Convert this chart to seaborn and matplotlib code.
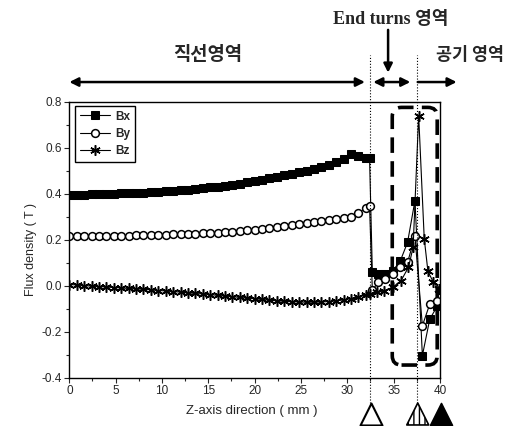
import numpy as np
import pandas as pd
import seaborn as sns
import matplotlib
matplotlib.use('Agg')
import matplotlib.pyplot as plt
from matplotlib.patches import FancyBboxPatch
from matplotlib.ticker import MultipleLocator, FormatStrFormatter
from matplotlib.transforms import blended_transform_factory

# straight section, sampled every ~0.8 mm
z_main = [0.0, 0.8, 1.6, 2.4, 3.2, 4.0, 4.8, 5.6, 6.4, 7.2, 8.0, 8.8, 9.6, 10.4,
          11.2, 12.0, 12.8, 13.6, 14.4, 15.2, 16.0, 16.8, 17.6, 18.4, 19.2, 20.0,
          20.8, 21.6, 22.4, 23.2, 24.0, 24.8, 25.6, 26.4, 27.2, 28.0, 28.8, 29.6,
          30.4, 31.2, 32.0, 32.4]
bx_main = [0.395, 0.396, 0.396, 0.397, 0.398, 0.399, 0.400, 0.401, 0.402, 0.404,
           0.405, 0.407, 0.409, 0.411, 0.413, 0.415, 0.418, 0.421, 0.424, 0.427,
           0.431, 0.435, 0.439, 0.444, 0.449, 0.454, 0.460, 0.466, 0.472, 0.479,
           0.486, 0.493, 0.500, 0.508, 0.516, 0.526, 0.537, 0.552, 0.573, 0.563,
           0.557, 0.556]
by_main = [0.214, 0.214, 0.215, 0.215, 0.216, 0.216, 0.217, 0.217, 0.218, 0.219,
           0.219, 0.220, 0.221, 0.222, 0.223, 0.224, 0.225, 0.226, 0.228, 0.229,
           0.231, 0.233, 0.235, 0.238, 0.241, 0.244, 0.247, 0.250, 0.254, 0.258,
           0.262, 0.266, 0.271, 0.276, 0.280, 0.284, 0.289, 0.294, 0.299, 0.318,
           0.336, 0.345]
bz_main = [0.005, 0.003, 0.000, -0.002, -0.004, -0.006, -0.008, -0.010, -0.012, -0.014,
           -0.016, -0.018, -0.021, -0.023, -0.026, -0.028, -0.031, -0.034, -0.036, -0.039,
           -0.042, -0.045, -0.048, -0.051, -0.054, -0.057, -0.060, -0.063, -0.066, -0.068,
           -0.070, -0.071, -0.072, -0.072, -0.071, -0.069, -0.066, -0.062, -0.056, -0.048,
           -0.040, -0.036]

# end turns / air region
z_bx_end = [32.7, 33.3, 34.1, 34.9, 35.7, 36.5, 37.3, 38.1, 38.9, 39.7]
bx_end = [0.058, 0.051, 0.052, 0.065, 0.106, 0.188, 0.370, -0.304, -0.145, -0.090]
z_by_end = [32.7, 33.3, 34.1, 34.9, 35.7, 36.5, 37.3, 38.1, 38.9, 39.7]
by_end = [-0.020, 0.014, 0.029, 0.051, 0.080, 0.101, 0.214, -0.174, -0.080, -0.066]
z_bz_end = [33.2, 34.0, 34.9, 35.8, 36.6, 37.1, 37.7, 38.3, 38.7, 39.3, 39.9]
bz_end = [-0.029, -0.022, -0.007, 0.022, 0.080, 0.167, 0.739, 0.205, 0.062, 0.014, -0.015]

sns.set_style('ticks')
plt.rcParams['font.family'] = ['Liberation Sans', 'Noto Sans CJK KR']
plt.rcParams['axes.unicode_minus'] = False

fig = plt.figure(figsize=(5.28, 4.26), dpi=100)
ax = fig.add_axes([0.1313, 0.1134, 0.702, 0.648])

series = [
    ('Bx', z_main + z_bx_end, bx_main + bx_end,
     dict(marker='s', markersize=5.2, markerfacecolor='black', markeredgecolor='black')),
    ('By', z_main + z_by_end, by_main + by_end,
     dict(marker='o', markersize=5.6, markerfacecolor='white', markeredgecolor='black',
          markeredgewidth=1.1)),
    ('Bz', z_main + z_bz_end, bz_main + bz_end,
     dict(marker=(6, 2, 0), markersize=7.5, markeredgecolor='black', markeredgewidth=1.1)),
]
for name, zz, bb, mk in series:
    df = pd.DataFrame({'z': zz, 'b': bb})
    sns.lineplot(data=df, x='z', y='b', ax=ax, color='black', linewidth=0.8,
                 sort=False, estimator=None, label=name, **mk)

ax.set_xlim(0, 40)
ax.set_ylim(-0.4, 0.8)
ax.xaxis.set_major_locator(MultipleLocator(5))
ax.xaxis.set_minor_locator(MultipleLocator(2.5))
ax.yaxis.set_major_locator(MultipleLocator(0.2))
ax.yaxis.set_minor_locator(MultipleLocator(0.1))
ax.yaxis.set_major_formatter(FormatStrFormatter('%.1f'))
ax.tick_params(which='major', direction='out', length=3.5, width=0.8, labelsize=8.5, pad=2)
ax.tick_params(which='minor', direction='out', length=2, width=0.8)
for sp in ax.spines.values():
    sp.set_color('black')
    sp.set_linewidth(1.0)

ax.set_xlabel('Z-axis direction ( mm )', fontsize=9.5)
ax.set_ylabel('Flux density ( T )', fontsize=9)
ax.xaxis.set_label_coords(0.493, -0.1)
ax.yaxis.set_label_coords(-0.087, 0.463)

leg = ax.legend(loc='upper left', bbox_to_anchor=(0.015, 0.985), borderaxespad=0,
                fancybox=False, framealpha=1, edgecolor='black',
                prop={'weight': 'bold', 'size': 8.5}, handlelength=2.6,
                labelspacing=0.45, borderpad=0.4, handletextpad=0.4)
leg.get_frame().set_linewidth(1.0)

trans = blended_transform_factory(ax.transData, ax.transAxes)

# region boundaries
for xv in (32.5, 37.5):
    ax.plot([xv, xv], [-0.09, 1.17], transform=trans, color='black', lw=0.8,
            ls=':', clip_on=False)

# dashed rounded box around the end-turn peak
box = FancyBboxPatch((34.85, -0.345), 4.85, 1.12,
                     boxstyle='round,pad=0,rounding_size=1.0', mutation_aspect=0.0403,
                     fill=False, edgecolor='black', linewidth=2.6,
                     linestyle=(0, (4.3, 2.3)), clip_on=False)
ax.add_patch(box)

# region arrows
arrow = dict(lw=1.8, color='black', mutation_scale=13, shrinkA=0, shrinkB=0)
ax.annotate('', xy=(0.0, 1.071), xytext=(31.9, 1.071), xycoords=trans, textcoords=trans,
            arrowprops=dict(arrowstyle='<|-|>', **arrow), annotation_clip=False)
ax.annotate('', xy=(32.8, 1.071), xytext=(36.8, 1.071), xycoords=trans, textcoords=trans,
            arrowprops=dict(arrowstyle='<|-|>', **arrow), annotation_clip=False)
ax.annotate('', xy=(41.8, 1.071), xytext=(37.6, 1.071), xycoords=trans, textcoords=trans,
            arrowprops=dict(arrowstyle='-|>', **arrow), annotation_clip=False)
ax.annotate('', xy=(34.4, 1.105), xytext=(34.4, 1.26), xycoords=trans, textcoords=trans,
            arrowprops=dict(arrowstyle='-|>', **arrow), annotation_clip=False)

fig.text(0.394, 0.871, '직선영역', ha='center', va='center', fontsize=13.5,
         weight='bold', family=['Noto Sans CJK KR'])
fig.text(0.739, 0.955, 'End turns 영역', ha='center', va='center', fontsize=13,
         weight='bold', family=['Liberation Serif', 'Noto Sans CJK KR'])
fig.text(0.89, 0.871, '공기 영역', ha='center', va='center', fontsize=12.5,
         weight='bold', family=['Noto Sans CJK KR'])

# position markers under the axis
ax.scatter([32.6], [-0.1315], marker='^', s=250, facecolor='white', edgecolor='black',
           linewidths=1.5, transform=trans, clip_on=False, zorder=5)
ax.scatter([37.6], [-0.1315], marker='^', s=250, facecolor='white', edgecolor='black',
           linewidths=1.2, hatch='|||', transform=trans, clip_on=False, zorder=5)
ax.scatter([40.1], [-0.1315], marker='^', s=250, facecolor='black', edgecolor='black',
           linewidths=1.2, transform=trans, clip_on=False, zorder=5)

fig.savefig('out.png', dpi=100)
